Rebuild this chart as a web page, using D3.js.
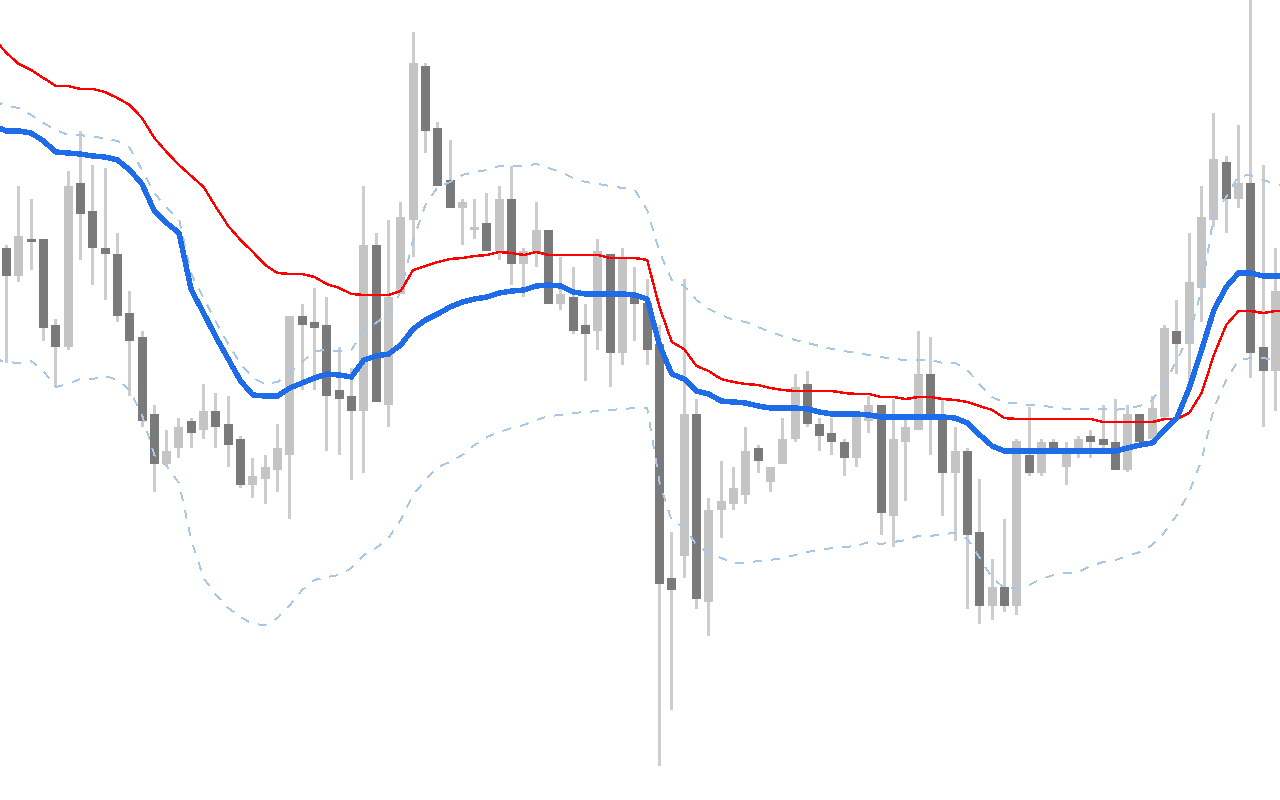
<!DOCTYPE html>
<html>
<head>
<meta charset="utf-8">
<script src="https://cdn.jsdelivr.net/npm/d3@7"></script>
<style>
  html, body { margin: 0; padding: 0; background: #ffffff; overflow: hidden; }
  svg { display: block; }
</style>
</head>
<body>
<div id="chart"></div>
<script>
// ---- Candles (price units, one per bar) ----
const candleOpen = [552,524,561,561,475,453,617,589,552,546,487,463,386,336,352,379,370,389,376,361,315,321,330,345,484,478,475,410,404,389,555,395,506,580,734,672,620,592,570,577,549,601,536,548,570,496,503,475,469,546,447,503,497,456,222,244,386,198,290,296,305,352,318,336,361,416,376,367,358,342,379,395,284,358,370,426,380,327,349,268,194,213,194,345,327,358,333,347,364,361,358,330,386,361,383,469,456,512,580,638,601,617,453,429];
const candleHigh = [555,614,601,561,481,629,669,635,632,567,509,469,395,370,382,382,416,407,404,364,342,345,376,484,496,512,503,453,432,614,567,580,598,768,737,678,660,601,601,607,614,634,552,598,570,543,533,496,561,546,552,533,521,475,268,521,401,302,339,333,373,355,333,382,426,429,382,382,361,384,404,395,401,380,469,463,400,373,352,321,241,281,361,393,361,361,358,364,370,395,401,395,386,404,475,500,567,614,687,644,675,802,635,552];
const candleLow  = [437,518,530,459,413,450,540,515,500,478,404,373,308,333,342,352,361,352,333,312,302,296,308,281,410,410,349,345,320,327,398,373,506,543,647,614,592,555,561,549,540,515,503,533,496,490,466,419,450,413,435,459,435,34,90,222,191,164,262,290,296,327,308,336,358,373,349,345,324,333,367,265,253,299,370,345,284,259,191,176,180,188,185,324,324,347,315,342,342,349,330,328,358,361,380,426,420,478,573,567,592,422,373,389];
const candleClose= [524,564,558,472,453,614,586,552,546,484,459,379,336,349,373,367,389,373,355,315,324,333,352,484,475,472,404,401,389,555,398,503,583,737,669,614,592,598,573,549,601,536,549,570,496,506,469,466,549,447,541,496,450,216,210,386,201,290,299,312,349,339,333,361,413,376,364,358,342,384,395,287,361,373,426,386,327,349,265,194,213,194,359,327,358,347,347,361,358,355,330,386,358,392,472,456,518,583,641,601,617,447,429,509];

// ---- Indicator lines (start one bar before the first candle, end one bar after the last) ----
const redLine = [761,747,736,730,722,714,714,711,711,708,702,695,682,662,648,635,624,613,593,574,560,548,535,527,526,526,523,516,512,506,505,505,505,509,530,534,538,541,542,544,545,548,547,545,548,545,545,545,545,545,542,542,542,540,493,458,451,434,429,421,418,416,415,412,410,409,409,409,409,407,406,406,403,403,401,403,403,401,400,398,394,390,382,381,381,381,381,381,381,381,378,378,378,378,378,381,381,387,407,445,475,489,489,487,489,489];
const blueLine = [674,669,669,667,659,648,647,646,644,643,640,630,616,589,577,567,510,487,463,441,419,405,404,404,412,417,422,426,425,423,440,444,446,455,471,480,486,493,498,501,503,507,509,510,514,515,514,508,506,506,506,506,505,501,455,426,421,409,406,399,398,397,394,392,392,392,391,388,386,386,386,385,383,383,383,383,383,383,382,377,365,354,349,349,349,349,349,349,349,349,349,349,352,355,357,370,382,412,450,490,513,527,527,524,524,524];
const upperBand = [699,694,692,685,677,670,665,665,663,662,659,652,630,607,592,581,526,502,478,456,436,422,416,418,428,438,449,450,449,450,470,477,487,508,560,595,613,618,625,628,630,634,634,634,636,632,628,622,618,616,614,612,610,590,548,520,514,500,491,485,480,478,473,468,464,460,457,454,451,449,447,445,443,441,440,440,440,437,437,430,415,403,397,397,395,394,393,391,391,391,391,390,392,394,400,416,440,465,510,585,603,624,625,620,616,614];
const lowerBand = [441,438,437,439,429,413,416,421,421,424,420,410,385,345,334,317,260,222,205,192,183,176,175,182,195,210,220,223,225,232,245,252,262,280,305,320,333,338,345,355,363,368,372,375,380,384,385,387,388,389,390,391,392,392,318,279,273,255,247,242,237,237,239,240,242,245,248,250,252,253,254,258,256,258,260,264,264,266,267,261,242,222,212,212,215,221,225,227,228,234,238,240,244,248,255,268,285,308,340,392,420,440,442,442,440,440];

const W = 1280, H = 800;
const svg = d3.select('#chart').append('svg').attr('width', W).attr('height', H);
svg.append('rect').attr('width', W).attr('height', H).attr('fill', '#ffffff');

const n = candleOpen.length;
const x = d3.scaleLinear().domain([0, n - 1]).range([6.5, 1275.5]);
const y = d3.scaleLinear().domain([0, 800]).range([800, 0]);

const candles = d3.range(n).map(i => ({
  i, o: candleOpen[i], h: candleHigh[i], l: candleLow[i], c: candleClose[i]
}));

const gC = svg.append('g').attr('shape-rendering', 'crispEdges');
// wicks
gC.selectAll('rect.wick').data(candles).join('rect')
  .attr('class', 'wick')
  .attr('x', d => x(d.i) - 1.5)
  .attr('width', 3)
  .attr('y', d => y(d.h))
  .attr('height', d => y(d.l) - y(d.h))
  .attr('fill', '#cdcdcd');
// bodies
gC.selectAll('rect.body').data(candles).join('rect')
  .attr('class', 'body')
  .attr('x', d => x(d.i) - 4.5)
  .attr('width', 9)
  .attr('y', d => y(Math.max(d.o, d.c)))
  .attr('height', d => Math.max(2, Math.abs(y(d.o) - y(d.c))))
  .attr('fill', d => d.c < d.o ? '#7a7a7a' : '#c4c4c4');

const line = arr => d3.line()
  .x((v, k) => x(k - 1))
  .y(v => y(v))(arr);

const gL = svg.append('g').attr('fill', 'none');
gL.append('path').attr('d', line(upperBand))
  .attr('stroke', '#a9c6e4').attr('stroke-width', 2).attr('stroke-dasharray', '9,9')
  .attr('shape-rendering', 'crispEdges');
gL.append('path').attr('d', line(lowerBand))
  .attr('stroke', '#a9c6e4').attr('stroke-width', 2).attr('stroke-dasharray', '9,9')
  .attr('shape-rendering', 'crispEdges');
gL.append('path').attr('d', line(redLine))
  .attr('stroke', '#ff0000').attr('stroke-width', 2.5)
  .attr('shape-rendering', 'crispEdges');
gL.append('path').attr('d', line(blueLine))
  .attr('stroke', '#1f6ce8').attr('stroke-width', 5.5)
  .attr('stroke-linejoin', 'round')
  .attr('shape-rendering', 'crispEdges');
</script>
</body>
</html>
